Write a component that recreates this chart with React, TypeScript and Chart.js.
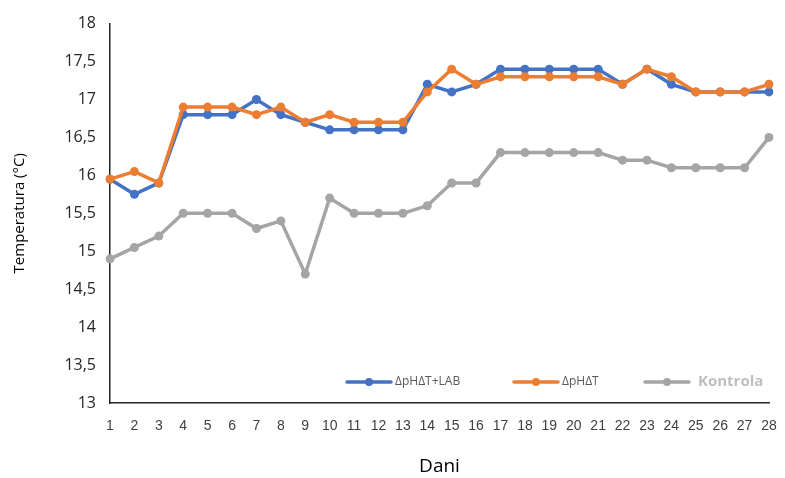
import React, { useEffect, useRef } from "react";
import { Chart, registerables } from "chart.js";

Chart.register(...registerables);

const days = ["1","2","3","4","5","6","7","8","9","10","11","12","13","14","15","16","17","18","19","20","21","22","23","24","25","26","27","28"];
const seriesLab = [15.95,15.75,15.9,16.8,16.8,16.8,17.0,16.8,16.7,16.6,16.6,16.6,16.6,17.2,17.1,17.2,17.4,17.4,17.4,17.4,17.4,17.2,17.4,17.2,17.1,17.1,17.1,17.1];
const seriesPhT = [15.95,16.05,15.9,16.9,16.9,16.9,16.8,16.9,16.7,16.8,16.7,16.7,16.7,17.1,17.4,17.2,17.3,17.3,17.3,17.3,17.3,17.2,17.4,17.3,17.1,17.1,17.1,17.2];
const seriesKontrola = [14.9,15.05,15.2,15.5,15.5,15.5,15.3,15.4,14.7,15.7,15.5,15.5,15.5,15.6,15.9,15.9,16.3,16.3,16.3,16.3,16.3,16.2,16.2,16.1,16.1,16.1,16.1,16.5];
const seriesNames = ["ΔpHΔT+LAB", "ΔpHΔT", "Kontrola"];
const seriesColors = ["#4472C4", "#ED7D31", "#A5A5A5"];

const legendPlugin = {
  id: "customLegend",
  afterDraw(chart: any) {
    const ctx = chart.ctx;
    const area = chart.chartArea;
    const y = area.bottom - 21;
    const items = [
      { x: area.left + 237, text: seriesNames[0], color: seriesColors[0], font: "12px 'Open Sans', sans-serif", tcolor: "#595959" },
      { x: area.left + 404, text: seriesNames[1], color: seriesColors[1], font: "12px 'Open Sans', sans-serif", tcolor: "#595959" },
      { x: area.left + 535, text: seriesNames[2], color: seriesColors[2], font: "bold 15px 'Open Sans', sans-serif", tcolor: "#BFBFBF" },
    ];
    ctx.save();
    items.forEach((it) => {
      ctx.strokeStyle = it.color;
      ctx.lineWidth = 3.5;
      ctx.lineCap = "round";
      ctx.beginPath();
      ctx.moveTo(it.x, y);
      ctx.lineTo(it.x + 44, y);
      ctx.stroke();
      ctx.fillStyle = it.color;
      ctx.beginPath();
      ctx.arc(it.x + 22, y, 4, 0, Math.PI * 2);
      ctx.fill();
      ctx.fillStyle = it.tcolor;
      ctx.font = it.font;
      ctx.textBaseline = "middle";
      ctx.textAlign = "left";
      ctx.fillText(it.text, it.x + (it.text === "Kontrola" ? 53 : 48), y);
    });
    ctx.restore();
  },
};

export default function App() {
  const ref = useRef<HTMLCanvasElement>(null);
  useEffect(() => {
    document.body.style.margin = "0";
    const mk = (i: number, data: number[], order: number) => ({
      label: seriesNames[i],
      data,
      borderColor: seriesColors[i],
      backgroundColor: seriesColors[i],
      borderWidth: 3.5,
      pointRadius: 4.5,
      pointHoverRadius: 4.5,
      pointBorderWidth: 0,
      tension: 0,
      order,
    });
    const chart = new Chart(ref.current as HTMLCanvasElement, {
      type: "line",
      data: {
        labels: days,
        datasets: [mk(0, seriesLab, 2), mk(1, seriesPhT, 1), mk(2, seriesKontrola, 0)],
      },
      options: {
        animation: false,
        responsive: false,
        layout: { padding: { top: 19, right: 16, left: 11, bottom: 0 } },
        plugins: { legend: { display: false }, tooltip: { enabled: false } },
        scales: {
          x: {
            offset: false,
            grid: { display: false, drawTicks: false },
            border: { display: true, color: "#262626", width: 1.5 },
            ticks: { color: "#404040", font: { family: "'Liberation Sans Narrow', 'Liberation Sans', sans-serif", size: 14 }, padding: 15, maxRotation: 0, autoSkip: false },
            title: { display: true, text: "Dani", color: "#000000", font: { family: "'Open Sans', sans-serif", size: 19 }, padding: { top: 10, bottom: 0 } },
            afterFit: (s: any) => { s.height = 75; s.paddingRight = 0; },
          },
          y: {
            min: 13,
            max: 18,
            grid: { display: false, drawTicks: false },
            border: { display: true, color: "#262626", width: 1.5 },
            ticks: {
              stepSize: 0.5,
              color: "#262626",
              font: { family: "'Open Sans', sans-serif", size: 16 },
              padding: 14,
              callback: (v: any) => String(v).replace(".", ","),
            },
            title: { display: true, text: "Temperatura (°C)", color: "#000000", font: { family: "'Open Sans', sans-serif", size: 15 }, padding: { top: 0, bottom: 0 } },
            afterFit: (s: any) => { s.width = 99; },
          },
        },
      },
      plugins: [legendPlugin],
    });
    return () => chart.destroy();
  }, []);
  return (
    <div style={{ width: 785, height: 478 }}>
      <canvas ref={ref} width={785} height={478} style={{ display: "block" }} />
    </div>
  );
}
